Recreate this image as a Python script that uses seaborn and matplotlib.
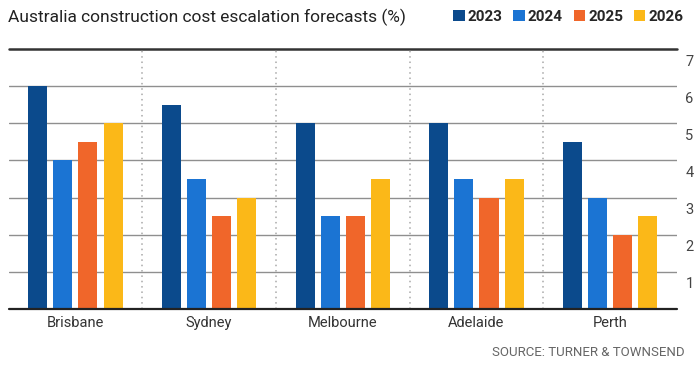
import numpy as np
import pandas as pd
import matplotlib.pyplot as plt
import matplotlib.transforms as mtransforms
from matplotlib.patches import Patch
import seaborn as sns

# Data
cities = ["Brisbane", "Sydney", "Melbourne", "Adelaide", "Perth"]
years = ["2023", "2024", "2025", "2026"]
v2023 = [6.0, 5.5, 5.0, 5.0, 4.5]
v2024 = [4.0, 3.5, 2.5, 3.5, 3.0]
v2025 = [4.5, 2.5, 2.5, 3.0, 2.0]
v2026 = [5.0, 3.0, 3.5, 3.5, 2.5]
yticks = [1, 2, 3, 4, 5, 6, 7]

colors = ["#0b4a8c", "#1b74d3", "#f0662a", "#fbb818"]

df = pd.DataFrame({
    "city": cities * 4,
    "year": np.repeat(years, len(cities)),
    "value": v2023 + v2024 + v2025 + v2026,
})

sns.set_style("white")
plt.rcParams["font.family"] = ["Roboto", "DejaVu Sans"]

fig = plt.figure(figsize=(7, 3.69), dpi=100)
ax = fig.add_axes([8.6 / 700, 1 - 309 / 369, (677 - 8.6) / 700, (309 - 49) / 369])

sns.barplot(data=df, x="city", y="value", hue="year", palette=colors,
            width=0.75, gap=0.24, saturation=1, legend=False, ax=ax,
            linewidth=0, zorder=3)

ax.set_xlim(-0.5, len(cities) - 0.5)
ax.set_ylim(0, 7)

# gridlines and frame lines
for t in yticks[:-1]:
    ax.axhline(t, color="#8f8f8f", lw=1, zorder=1)
ax.axhline(7, color="#333333", lw=1.8, zorder=1, clip_on=False)
ax.axhline(0, color="#222222", lw=1.6, zorder=4, clip_on=False)

# dotted separators between cities
for i in range(len(cities) - 1):
    ax.axvline(i + 0.5, color="#a8a8a8", lw=1.1, ls=(0, (1, 2.5)), zorder=1)

for s in ax.spines.values():
    s.set_visible(False)

ax.set_xlabel("")
ax.set_ylabel("")
ax.tick_params(axis="x", length=0, pad=5, labelsize=10.5, labelcolor="#333333")

ax.yaxis.tick_right()
ax.set_yticks(yticks)
ax.set_yticklabels([str(t) for t in yticks])
ax.tick_params(axis="y", length=0, pad=6, labelsize=10.5, labelcolor="#444444")
offset = mtransforms.ScaledTranslation(0, -4 / 72, fig.dpi_scale_trans)
for lab in ax.get_yticklabels():
    lab.set_verticalalignment("top")
    lab.set_transform(lab.get_transform() + offset)

fig.text(8 / 700, 1 - 17 / 369, "Australia construction cost escalation forecasts (%)",
         fontsize=12.5, color="#222222", va="center", ha="left")

handles = [Patch(facecolor=c, edgecolor="none") for c in colors]
fig.legend(handles, years, ncol=4, loc="center right",
           bbox_to_anchor=(691 / 700, 1 - 17 / 369), frameon=False,
           handlelength=0.75, handleheight=0.75, handletextpad=0.2,
           columnspacing=0.7, borderpad=0, prop={"weight": "bold", "size": 11})

fig.text(685 / 700, 1 - 352 / 369, "SOURCE: TURNER & TOWNSEND",
         fontsize=9.5, color="#666666", ha="right", va="center")

fig.savefig("out.png", dpi=100)
